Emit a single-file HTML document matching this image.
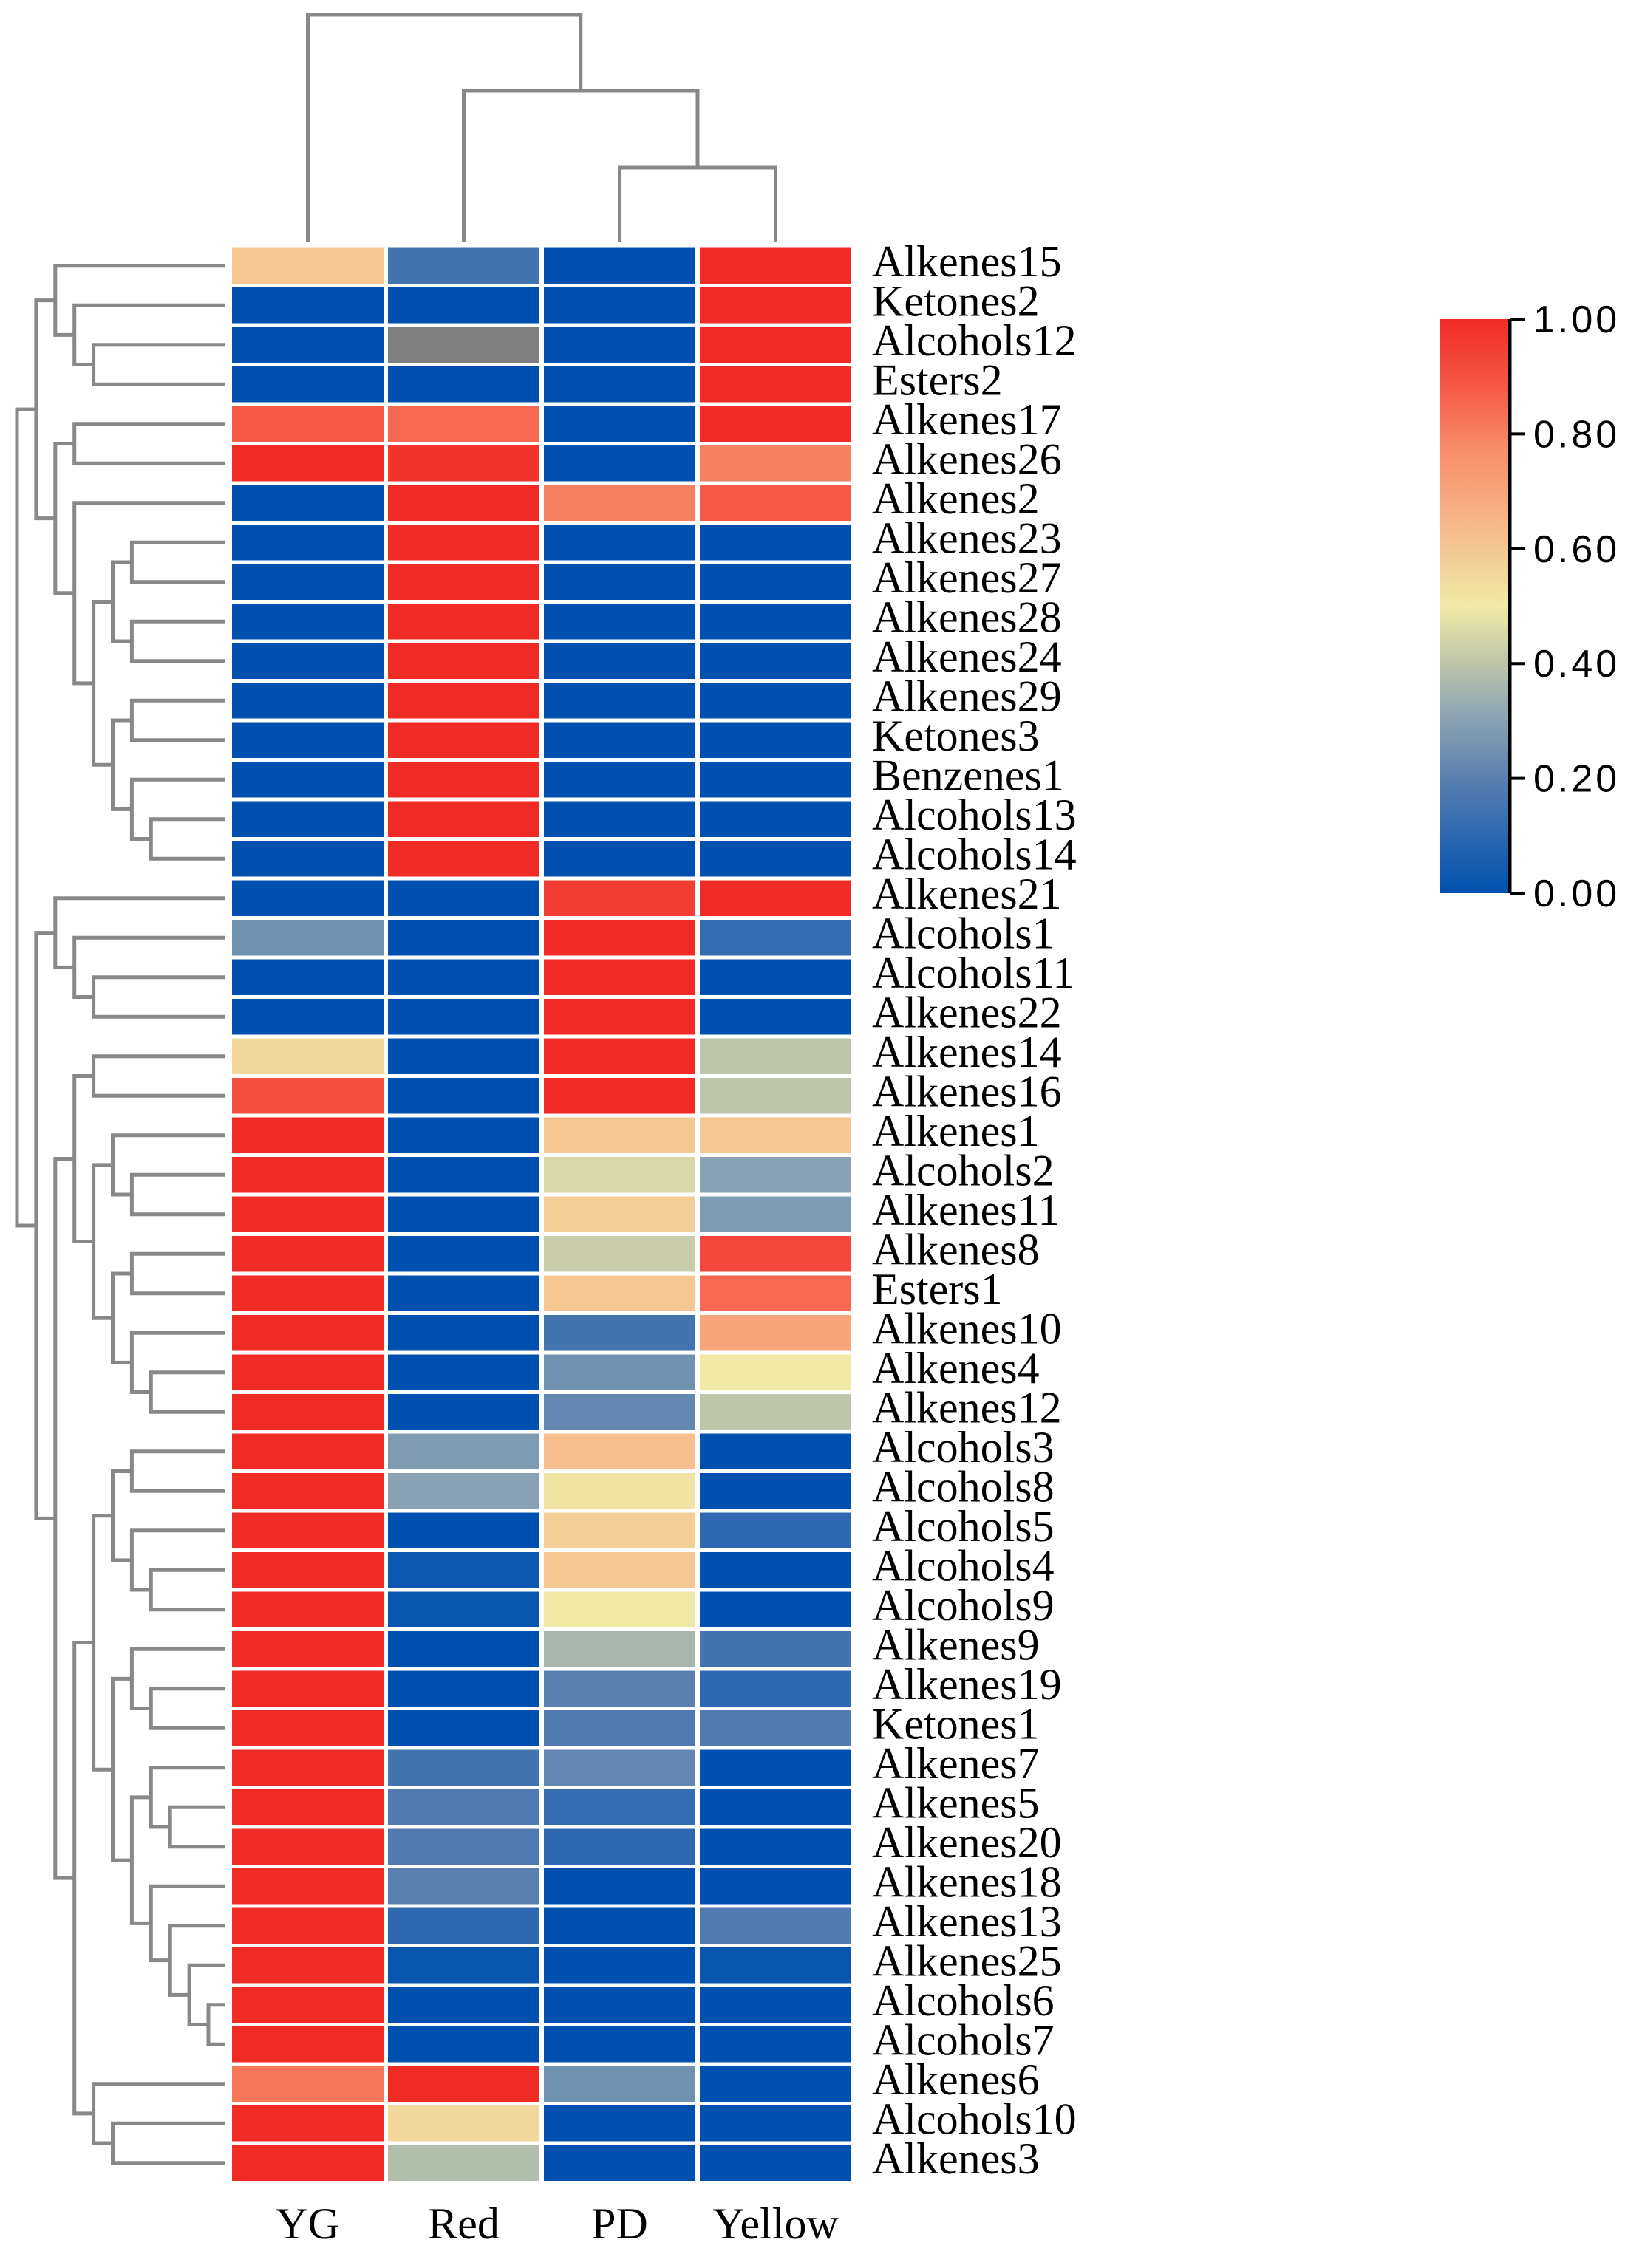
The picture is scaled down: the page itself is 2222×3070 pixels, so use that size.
<!DOCTYPE html>
<html><head><meta charset="utf-8"><style>
html,body{margin:0;padding:0;background:#fff;}
svg{display:block;}
</style></head><body>
<svg id="chart" width="2222" height="3070" viewBox="0 0 2222 3070" xmlns="http://www.w3.org/2000/svg">
<defs>
<linearGradient id="cbar" x1="0" y1="1" x2="0" y2="0">
<stop offset="0" stop-color="#0050b0"/>
<stop offset="0.2" stop-color="#5a80b0"/>
<stop offset="0.32" stop-color="#92a8b2"/>
<stop offset="0.42" stop-color="#c8cca8"/>
<stop offset="0.5" stop-color="#f0eaa6"/>
<stop offset="0.62" stop-color="#f5c08e"/>
<stop offset="0.78" stop-color="#f88a68"/>
<stop offset="0.9" stop-color="#f45040"/>
<stop offset="1" stop-color="#f02a25"/>
</linearGradient>
</defs>
<g id="cells"></g>
<g id="rowdend"></g>
<g id="coldend"></g>
<g id="rowlabels"></g>
<g id="collabels"></g>
<g id="legend">
<rect x="1948" y="432" width="94" height="777" fill="url(#cbar)"/>
<line x1="2043" y1="432" x2="2043" y2="1209" stroke="#000" stroke-width="5"/>
</g>
</svg>
<script>
const rowNames = ["Alkenes15","Ketones2","Alcohols12","Esters2","Alkenes17","Alkenes26","Alkenes2","Alkenes23","Alkenes27","Alkenes28","Alkenes24","Alkenes29","Ketones3","Benzenes1","Alcohols13","Alcohols14","Alkenes21","Alcohols1","Alcohols11","Alkenes22","Alkenes14","Alkenes16","Alkenes1","Alcohols2","Alkenes11","Alkenes8","Esters1","Alkenes10","Alkenes4","Alkenes12","Alcohols3","Alcohols8","Alcohols5","Alcohols4","Alcohols9","Alkenes9","Alkenes19","Ketones1","Alkenes7","Alkenes5","Alkenes20","Alkenes18","Alkenes13","Alkenes25","Alcohols6","Alcohols7","Alkenes6","Alcohols10","Alkenes3"];
const colNames = ["YG","Red","PD","Yellow"];
const valYG = [0.6,0,0,0,0.88,1,0,0,0,0,0,0,0,0,0,0,0,0.25,0,0,0.55,0.9,1,1,1,1,1,1,1,1,1,1,1,1,1,1,1,1,1,1,1,1,1,1,1,1,0.82,1,1];
const valRed = [0.15,0,null,0,0.85,0.97,1,1,1,1,1,1,1,1,1,1,0,0,0,0,0,0,0,0,0,0,0,0,0,0,0.28,0.3,0,0.03,0.02,0,0,0,0.15,0.18,0.18,0.2,0.1,0.02,0,0,1,0.55,0.38];
const valPD = [0,0,0,0,0,0,0.8,0,0,0,0,0,0,0,0,0,0.95,1,1,1,1,1,0.6,0.45,0.58,0.42,0.6,0.15,0.25,0.22,0.62,0.52,0.58,0.6,0.5,0.36,0.2,0.18,0.22,0.12,0.1,0,0,0,0,0,0.25,0,0];
const valYellow = [1,1,1,1,1,0.8,0.88,0,0,0,0,0,0,0,0,0,1,0.12,0,0,0.4,0.4,0.6,0.3,0.28,0.92,0.85,0.7,0.5,0.4,0,0,0.1,0,0,0.15,0.1,0.18,0,0,0,0,0.18,0.02,0,0,0,0,0];
const tickLabels = ["0.00","0.20","0.40","0.60","0.80","1.00"];
const tickValues = [0,0.2,0.4,0.6,0.8,1];
const rowTree = [1,
 [2,[3,0,[4,1,[5,2,3]]],[3,[4,4,5],[4,6,[5,[6,[7,7,8],[7,9,10]],[6,[7,11,12],[7,13,[8,14,15]]]]]]],
 [2,[3,16,[4,17,[5,18,19]]],
  [3,[4,[5,20,21],[5,[6,22,[7,23,24]],[6,[7,25,26],[7,27,[8,28,29]]]]],
   [4,[5,[6,[7,30,31],[7,32,[8,33,34]]],[6,[7,35,[8,36,37]],[7,[8,38,[9,39,40]],[8,41,[9,42,[10,43,[11,44,45]]]]]]],[5,46,[6,47,48]]]]]];
const colTree = [1,0,[2,1,[3,2,3]]];

const NS="http://www.w3.org/2000/svg";
const X0=311, CW=211, Y0=333, RH=53.5;
const CB_TOP=432, CB_BOT=1209;
function rowY(i){return Y0+RH*(i+0.5);}
function colX(j){return X0+CW*(j+0.5);}
function levelX(l){return 23+25.9*(l-1);}
function levelY(l){return [20,123,227][l-1];}
function cbY(v){return CB_BOT-(CB_BOT-CB_TOP)*v;}
const stops=[[0,[0,80,176]],[0.2,[90,128,176]],[0.32,[146,168,178]],[0.42,[200,204,168]],[0.5,[240,234,166]],[0.62,[245,192,142]],[0.78,[248,138,104]],[0.9,[244,80,64]],[1,[240,42,37]]];
function color(v){
  if(v===null||v===undefined) return "#808080";
  for(let k=1;k<stops.length;k++){
    if(v<=stops[k][0]){
      const a=stops[k-1],b=stops[k],t=(v-a[0])/(b[0]-a[0]);
      const c=a[1].map((x,i)=>Math.round(x+(b[1][i]-x)*t));
      return "rgb("+c.join(",")+")";
    }
  }
  return "rgb(240,42,37)";
}
function mk(tag,attrs,parent){const e=document.createElementNS(NS,tag);for(const k in attrs)e.setAttribute(k,attrs[k]);parent.appendChild(e);return e;}

const series=[valYG,valRed,valPD,valYellow];
const cells=document.getElementById("cells");
for(let i=0;i<rowNames.length;i++){
  for(let j=0;j<4;j++){
    const r=mk("rect",{x:X0+CW*j+3,y:Y0+RH*i+2.5,width:CW-6,height:RH-5,fill:color(series[j][i])},cells);
    
    
  }
}
const rl=document.getElementById("rowlabels");
rowNames.forEach((n,i)=>{
  const t=mk("text",{x:1180,y:rowY(i)+14,"font-family":"Liberation Serif, serif","font-size":60,fill:"#000"},rl);
  t.textContent=n;
  
  
});
const cl=document.getElementById("collabels");
colNames.forEach((n,j)=>{
  const t=mk("text",{x:colX(j),y:3030,"font-family":"Liberation Serif, serif","font-size":60,fill:"#000","text-anchor":"middle"},cl);
  t.textContent=n;
  
  
});
const lg=document.getElementById("legend");
tickValues.forEach((v,k)=>{
  const l=mk("line",{x1:2043,x2:2064,y1:cbY(v),y2:cbY(v),stroke:"#000","stroke-width":4},lg);
  
  
  const t=mk("text",{x:2075,y:cbY(v)+18,"font-family":"Liberation Sans, sans-serif","font-size":52,fill:"#000","letter-spacing":"4"},lg);
  t.textContent=tickLabels[k];
  
  
});
const st={stroke:"#888","stroke-width":5,fill:"none"};
const rd=document.getElementById("rowdend");
function drawRow(n){
  if(typeof n==="number"){return {y:rowY(n),x:305};}
  const a=drawRow(n[1]),b=drawRow(n[2]),x=levelX(n[0]);
  const p=mk("path",Object.assign({d:`M${a.x},${a.y}H${x}V${b.y}H${b.x}`},st),rd);
  
  
  return {y:(a.y+b.y)/2,x:x};
}
drawRow(rowTree);
const cd=document.getElementById("coldend");
function drawCol(n){
  if(typeof n==="number"){return {x:colX(n),y:328};}
  const a=drawCol(n[1]),b=drawCol(n[2]),y=levelY(n[0]);
  const p=mk("path",Object.assign({d:`M${a.x},${a.y}V${y}H${b.x}V${b.y}`},st),cd);
  
  
  return {x:(a.x+b.x)/2,y:y};
}
drawCol(colTree);
</script>
</body></html>
